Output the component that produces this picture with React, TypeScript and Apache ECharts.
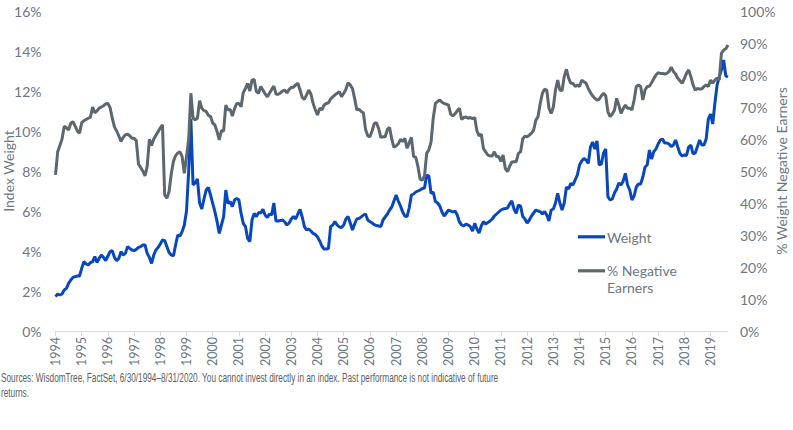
import React, { useEffect, useRef } from "react";
import * as echarts from "echarts";

// Monthly observations, starting June 1994
const START_YEAR = 1994;
const START_MONTH = 6;

// Index weight (%), left axis
const weight: number[] = [
  1.72, 1.85, 1.8, 1.85, 2.05, 2.13, 2.38, 2.55, 2.68, 2.72, 2.75, 2.75,
  3.13, 3.47, 3.35, 3.3, 3.42, 3.47, 3.72, 3.42, 3.63, 3.8, 3.68, 3.52,
  3.75, 3.97, 4.02, 3.68, 3.52, 3.63, 3.97, 3.8, 3.88, 4.22, 4.13, 4.05,
  4.02, 4.08, 4.18, 4.22, 4.3, 4.3, 3.88, 3.68, 3.38, 3.8, 4.05, 4.18,
  4.35, 4.55, 4.52, 4.22, 3.92, 3.8, 3.75, 4.3, 4.8, 4.75, 4.97, 5.3,
  6.0, 8.0, 10.6, 7.3, 7.4, 7.6, 6.4, 6.1, 6.6, 7.05, 7.18, 6.8,
  6.38, 5.97, 5.47, 4.88, 5.3, 5.72, 7.05, 6.38, 6.47, 6.22, 6.55, 6.63,
  6.55, 5.88, 5.38, 5.22, 4.63, 4.47, 5.55, 5.88, 5.72, 5.92, 5.9, 6.08,
  5.8, 5.68, 5.85, 5.8, 6.4, 5.5, 5.5, 5.52, 5.55, 5.45, 5.3, 5.4,
  5.6, 5.72, 5.6, 5.85, 6.08, 5.7, 5.22, 5.05, 5.1, 5.0, 4.88, 4.82,
  4.7, 4.5, 4.25, 4.1, 4.1, 4.12, 5.22, 5.3, 5.47, 5.3, 5.2, 5.18,
  5.3, 5.6, 5.72, 5.4, 5.05, 5.35, 5.6, 5.63, 5.7, 5.8, 5.85, 5.55,
  5.47, 5.4, 5.32, 5.27, 5.25, 5.22, 5.55, 5.7, 5.85, 6.05, 6.2, 6.5,
  6.8, 6.5, 6.25, 5.95, 5.75, 5.72, 6.15, 6.8, 6.85, 6.95, 7.0, 7.05,
  7.13, 7.15, 7.8, 7.75, 6.88, 6.95, 6.47, 6.4, 6.25, 5.95, 5.75, 5.9,
  6.05, 6.0, 5.95, 6.0, 5.8, 5.45, 5.3, 5.25, 5.35, 5.3, 5.22, 5.0,
  5.38, 5.1, 4.9, 5.25, 5.47, 5.35, 5.42, 5.5, 5.6, 5.75, 5.85, 5.95,
  6.05, 6.1, 6.12, 6.15, 6.35, 6.5, 6.1, 5.88, 6.3, 6.25, 5.72, 5.6,
  5.4, 5.55, 5.75, 5.9, 6.05, 6.0, 5.97, 5.85, 5.97, 5.8, 5.5, 6.05,
  6.1, 6.4, 6.88, 6.4, 6.05, 6.4, 7.2, 7.1, 7.38, 7.3, 7.55, 7.8,
  8.3, 8.5, 8.63, 8.55, 8.38, 9.2, 9.45, 9.1, 9.5, 8.3, 8.35, 8.9,
  9.1, 6.72, 6.55, 6.6, 6.9, 7.1, 7.4, 7.3, 7.5, 7.88, 7.3, 7.05,
  6.55, 6.75, 7.2, 7.35, 7.35, 7.7, 8.2, 8.3, 9.05, 8.6, 8.97, 9.1,
  9.35, 9.55, 9.6, 9.4, 9.4, 9.35, 9.22, 9.3, 9.55, 9.2, 8.88, 8.75,
  8.8, 8.78, 9.2, 9.3, 8.85, 8.9, 9.22, 9.55, 9.3, 9.3, 9.6, 10.6,
  10.85, 10.35, 11.4, 12.3, 12.72, 13.05, 13.55, 12.75, 12.7,
];

// Share of index weight in companies with negative earnings (%), right axis
const negativeEarners: number[] = [
  48.8, 56, 58, 60, 64, 63.5, 62.8, 64.9, 65.4, 64, 62.5, 61.8,
  65.1, 65.7, 66.1, 66.5, 66.8, 70, 68.2, 68.8, 69.6, 70, 70.4, 71,
  71.1, 69.8, 66.5, 63.8, 62.5, 61, 59.2, 60.5, 61.3, 61.5, 61, 60.2,
  60.2, 59.5, 52.2, 51.1, 50, 48.5, 51.5, 59.9, 58, 60, 61.2, 62.3,
  63.5, 64.4, 42.5, 41.5, 43.5, 49, 53, 54.8, 55.6, 56, 54.5, 49.3,
  54.5, 60, 74.3, 66.5, 66, 66.5, 72, 69.6, 68.9, 68.6, 67.4, 67,
  65, 64.4, 62.3, 59.7, 62.6, 62.5, 70.6, 69.1, 69.2, 67.2, 69.5, 71.1,
  71.1, 70.1, 74.5, 75.8, 77.4, 75, 78.4, 78.6, 74.8, 74.3, 76.4, 75.3,
  74.1, 73.2, 74.3, 75.5, 76.5, 74, 74, 74.4, 75, 75.3, 74.4, 75.5,
  76.1, 76.2, 76.9, 77.4, 75.3, 73, 72.4, 73.8, 75.3, 74, 71.1, 69.1,
  67.5, 69.6, 69.1, 70.6, 71.1, 71.3, 72.5, 73.2, 73.8, 74.3, 74.8, 73.2,
  74.3, 75.5, 77.6, 76.9, 75.8, 72.7, 69.1, 69.3, 68.6, 68.2, 63, 61,
  60.7, 62.5, 64.9, 65.1, 63.3, 60.5, 60.7, 60.7, 63, 63.6, 60, 57.4,
  57.8, 58.5, 59.9, 59.2, 60.2, 57.1, 58.8, 60.5, 54.5, 54.3, 51.4, 47.4,
  47.2, 48.5, 55.5, 56.6, 59, 66.5, 71.1, 71.7, 72.2, 71.5, 71.1, 70.9,
  70.6, 67.8, 67.2, 67.9, 68.8, 69.6, 66.1, 66.7, 66.9, 66.5, 66.7, 66.4,
  66.7, 62.5, 61, 61.5, 57, 56, 55, 54.7, 54.7, 56, 54.5, 54.5,
  53, 55, 50.8, 49.8, 51.5, 52.8, 52.9, 52.9, 55.5, 56, 60, 60.9,
  60.7, 61.2, 61.8, 62.8, 65.9, 67, 71.1, 74.3, 75.6, 75.3, 69.6, 68,
  70, 75.3, 78.4, 75.3, 75.1, 79.5, 81.8, 79, 77.4, 77.4, 76.4, 76.9,
  76.4, 78.4, 77.9, 77.4, 75.8, 74.5, 73.5, 72.7, 72.2, 72.4, 73.5, 74.3,
  73.5, 68.5, 67, 67.8, 69, 72.7, 70.6, 68, 69.5, 70.6, 69.6, 69.6,
  69.1, 72.2, 76.4, 76.9, 76.4, 72.2, 75.3, 76.4, 76.5, 77.6, 78.8, 80,
  80.7, 80.5, 80.5, 80.3, 80.5, 81.1, 82.4, 81.1, 80.3, 79, 78.2, 77.4,
  78.9, 80.5, 81.6, 79.5, 76.9, 75.3, 75.8, 75.6, 75.6, 76.4, 76.9, 76.4,
  78.4, 77.5, 78.4, 79, 78.5, 86.8, 87.8, 88.2, 89.4,
];

// Month categories ("YYYY-MM"), one per observation
const months: string[] = weight.map((_, i) => {
  const m = START_MONTH - 1 + i;
  const y = START_YEAR + Math.floor(m / 12);
  return `${y}-${String((m % 12) + 1).padStart(2, "0")}`;
});

const leftTicks = { min: 0, max: 16, interval: 2 };
const rightTicks = { min: 0, max: 100, interval: 10 };

const SERIES_NAMES = ["Weight", "% Negative Earners"];
const SOURCE_NOTE =
  "Sources: WisdomTree, FactSet, 6/30/1994\u20138/31/2020. You cannot invest directly in an index. Past performance is not indicative of future";
const SOURCE_NOTE_2 = "returns.";

const BLUE = "#0847bd";
const GREY = "#5c6770";
const TEXT = "#6c7883";
const FONT = "Lato";
const NOTE_FONT = '12px "Liberation Sans Narrow", "Liberation Sans", sans-serif';

function noteScale(): number {
  const c = document.createElement("canvas").getContext("2d");
  if (!c) return 1;
  c.font = NOTE_FONT;
  const w = c.measureText(SOURCE_NOTE).width;
  return w > 0 ? 498 / w : 1;
}

export default function App() {
  const ref = useRef<HTMLDivElement>(null);

  useEffect(() => {
    if (!ref.current) return;
    const chart = echarts.init(ref.current, undefined, { renderer: "svg" });
    const sx = noteScale();
    const yearLabel = (i: number) => i % 12 === 0;

    chart.setOption({
      animation: false,
      textStyle: { fontFamily: FONT },
      grid: {
        left: 55.5,
        right: 65,
        top: 11,
        bottom: 99,
        containLabel: false,
        outerBoundsMode: "none",
      },
      xAxis: {
        type: "category",
        data: months,
        boundaryGap: false,
        axisLine: { lineStyle: { color: "#d9d9d9", width: 1 } },
        axisTick: { interval: yearLabel, length: 5, lineStyle: { color: "#d9d9d9" } },
        axisLabel: {
          interval: yearLabel,
          rotate: 90,
          margin: 6,
          fontSize: 12.5,
          color: TEXT,
          fontFamily: FONT,
          formatter: (v: string) => v.slice(0, 4),
        },
        splitLine: { show: false },
      },
      yAxis: [
        {
          type: "value",
          ...leftTicks,
          name: "Index Weight",
          nameLocation: "middle",
          nameRotate: 90,
          nameGap: 40,
          nameMoveOverlap: false,
          nameTextStyle: { fontSize: 14, color: TEXT, fontFamily: FONT },
          axisLine: { show: false },
          axisTick: { show: false },
          splitLine: { show: false },
          axisLabel: { formatter: "{value}%", fontSize: 14, color: TEXT, margin: 14, fontFamily: FONT },
        },
        {
          type: "value",
          ...rightTicks,
          position: "right",
          name: "% Weight Negative Earners",
          nameLocation: "middle",
          nameRotate: 90,
          nameGap: 46,
          nameMoveOverlap: false,
          nameTextStyle: { fontSize: 14, color: TEXT, fontFamily: FONT },
          axisLine: { show: false },
          axisTick: { show: false },
          splitLine: { show: false },
          axisLabel: { formatter: "{value}%", fontSize: 14, color: TEXT, margin: 12, fontFamily: FONT },
        },
      ],
      series: [
        {
          name: SERIES_NAMES[0],
          type: "line",
          yAxisIndex: 0,
          data: weight,
          showSymbol: false,
          lineStyle: { color: BLUE, width: 3 },
          itemStyle: { color: BLUE },
        },
        {
          name: SERIES_NAMES[1],
          type: "line",
          yAxisIndex: 1,
          data: negativeEarners,
          showSymbol: false,
          lineStyle: { color: GREY, width: 3 },
          itemStyle: { color: GREY },
        },
      ],
      graphic: [
        { type: "rect", shape: { x: 578, y: 235.2, width: 27, height: 3.2 }, style: { fill: BLUE } },
        {
          type: "text",
          x: 607,
          y: 237,
          style: { text: SERIES_NAMES[0], font: `14px ${FONT}`, fill: TEXT, verticalAlign: "middle" },
        },
        { type: "rect", shape: { x: 578, y: 269.2, width: 27, height: 3.2 }, style: { fill: GREY } },
        {
          type: "text",
          x: 607,
          y: 262,
          style: {
            text: "% Negative\nEarners",
            font: `14px ${FONT}`,
            lineHeight: 17,
            fill: TEXT,
            verticalAlign: "top",
          },
        },
        {
          type: "text",
          x: 1,
          y: 378,
          scaleX: sx,
          style: { text: SOURCE_NOTE, font: NOTE_FONT, fill: "#606060", verticalAlign: "middle" },
        },
        {
          type: "text",
          x: 1,
          y: 393,
          scaleX: sx,
          style: { text: SOURCE_NOTE_2, font: NOTE_FONT, fill: "#606060", verticalAlign: "middle" },
        },
      ],
    });

    return () => chart.dispose();
  }, []);

  return <div ref={ref} style={{ width: 793, height: 430, position: "absolute", left: 0, top: 0 }} />;
}
